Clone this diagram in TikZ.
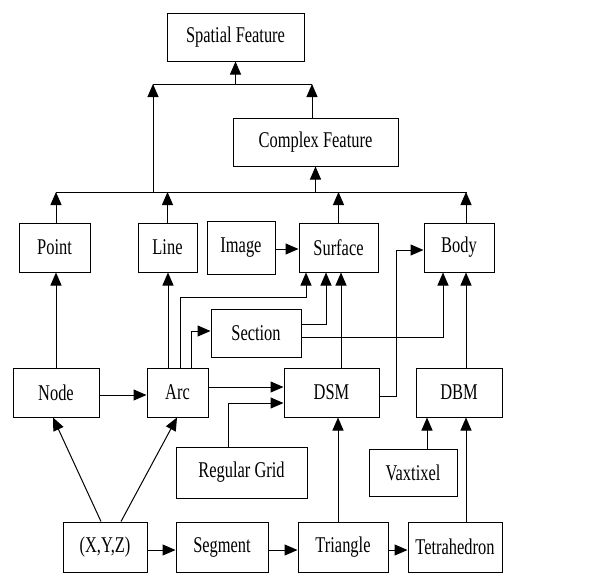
\documentclass[tikz,border=0pt]{standalone}
\usepackage{fontspec}
\setmainfont[FakeStretch=0.73]{Liberation Serif}
\usetikzlibrary{arrows.meta}
\tikzset{
  box/.style={draw, line width=1pt, inner sep=0pt, font=\fontsize{22.5}{25}\selectfont},
  arr/.style={line width=1pt, -{Triangle[length=13pt,width=11pt]}},
  ln/.style={line width=1pt}
}
\begin{document}
\begin{tikzpicture}[x=1pt,y=-1pt]
\useasboundingbox (0,0) rectangle (593,574);
% boxes
\node[box, minimum width=137pt, minimum height=48pt] (sf) at (235.5,37) {Spatial Feature};
\node[box, minimum width=165pt, minimum height=48pt] (cf) at (315.5,142) {Complex Feature};
\node[box, minimum width=71pt, minimum height=49pt] (point) at (54.5,247.5) {Point};
\node[box, minimum width=59pt, minimum height=49pt] (line) at (167.5,247.5) {Line};
\node[box, minimum width=68pt, minimum height=53pt] (image) at (241,247.5) {Image};
\node[box, minimum width=79pt, minimum height=49pt] (surface) at (338.5,247.5) {Surface};
\node[box, minimum width=70pt, minimum height=49pt] (body) at (459,247.5) {Body};
\node[box, minimum width=90pt, minimum height=48pt] (section) at (256,333) {Section};
\node[box, minimum width=86pt, minimum height=49pt] (node) at (56,392.5) {Node};
\node[box, minimum width=61pt, minimum height=49pt] (arc) at (177.5,392.5) {Arc};
\node[box, minimum width=95pt, minimum height=49pt] (dsm) at (331.5,392.5) {DSM};
\node[box, minimum width=86pt, minimum height=49pt] (dbm) at (459,392.5) {DBM};
\node[box, minimum width=131pt, minimum height=51pt] (grid) at (241.5,472.5) {Regular Grid};
\node[box, minimum width=88pt, minimum height=47pt] (vax) at (413,472.5) {Vaxtixel};
\node[box, minimum width=84pt, minimum height=50pt] (xyz) at (105,547) {(X,Y,Z)};
\node[box, minimum width=92pt, minimum height=50pt] (seg) at (222,547) {Segment};
\node[box, minimum width=90pt, minimum height=50pt] (tri) at (343,547) {Triangle};
\node[box, minimum width=94pt, minimum height=50pt] (tet) at (455,547) {Tetrahedron};
% buses
\coordinate (b1l) at (153,84);
\coordinate (b1r) at (312,84);
\coordinate (b2l) at (56,192);
\coordinate (b2r) at (467,192);
\draw[ln] (b1l) -- (b1r);
\draw[ln] (b2l) -- (b2r);
\draw[arr] (b1l -| sf.south) -- (sf.south);
\draw[arr] (b2l -| b1l) -- (b1l);
\draw[arr] ([xshift=-3.5pt]cf.north) -- (b1r);
\draw[arr] (b2l -| cf.south) -- (cf.south);
\draw[arr] ([xshift=1.5pt]point.north) -- (56,192);
\draw[arr] (line.north) -- (line.north |- b2l);
\draw[arr] (surface.north) -- (surface.north |- b2l);
\draw[arr] ([xshift=7pt]body.north) -- (466,192);
% middle
\draw[arr] (node.north) -- (point.south -| node.north);
\draw[arr] ([xshift=-9.5pt]arc.north) -- ([xshift=0.5pt]line.south);
\draw[arr] ([xshift=2.5pt]arc.north) -- (180,297) -- (306,297) -- ([xshift=-32.5pt]surface.south);
\draw[arr] ([xshift=13.5pt]arc.north) -- (191,331) -- ([yshift=2pt]section.west);
\draw[arr] ([yshift=9pt]section.east) -- (326,324) -- ([xshift=-12.5pt]surface.south);
\draw[arr] ([yshift=-4pt]section.east) -- (443,337) -- ([xshift=-16pt]body.south);
\draw[arr] ([xshift=9.5pt]dsm.north) -- ([xshift=2.5pt]surface.south);
\draw[arr] ([xshift=7pt]dbm.north) -- ([xshift=7pt]body.south);
\draw[arr] ([yshift=-1.5pt]image.east) -- ([yshift=-1.5pt]surface.west);
\draw[arr] ([yshift=-3.5pt]dsm.east) -- (396,396) -- (396,250) -- ([yshift=-2.5pt]body.west);
\draw[arr] ([yshift=-2.5pt]node.east) -- ([yshift=-2.5pt]arc.west);
\draw[arr] ([yshift=5.5pt]arc.east) -- ([yshift=5.5pt]dsm.west);
\draw[arr] ([xshift=-13.5pt]grid.north) -- (228,403) -- ([yshift=-10.5pt]dsm.west);
\draw[arr] ([xshift=14pt]vax.north) -- ([xshift=-32pt]dbm.south);
\draw[arr] ([xshift=11pt]tet.north) -- ([xshift=7pt]dbm.south);
\draw[arr] ([xshift=-5pt]tri.north) -- ([xshift=6.5pt]dsm.south);
\draw[arr] ([xshift=-4pt]xyz.north) -- ([xshift=-3pt]node.south);
\draw[arr] ([xshift=16pt]xyz.north) -- ([xshift=-0.5pt]arc.south);
% bottom row
\draw[arr] ([yshift=-3pt]xyz.east) -- ([yshift=-3pt]seg.west);
\draw[arr] ([yshift=-3pt]seg.east) -- ([yshift=-3pt]tri.west);
\draw[arr] ([yshift=-3pt]tri.east) -- ([yshift=-3pt]tet.west);
\end{tikzpicture}
\end{document}
